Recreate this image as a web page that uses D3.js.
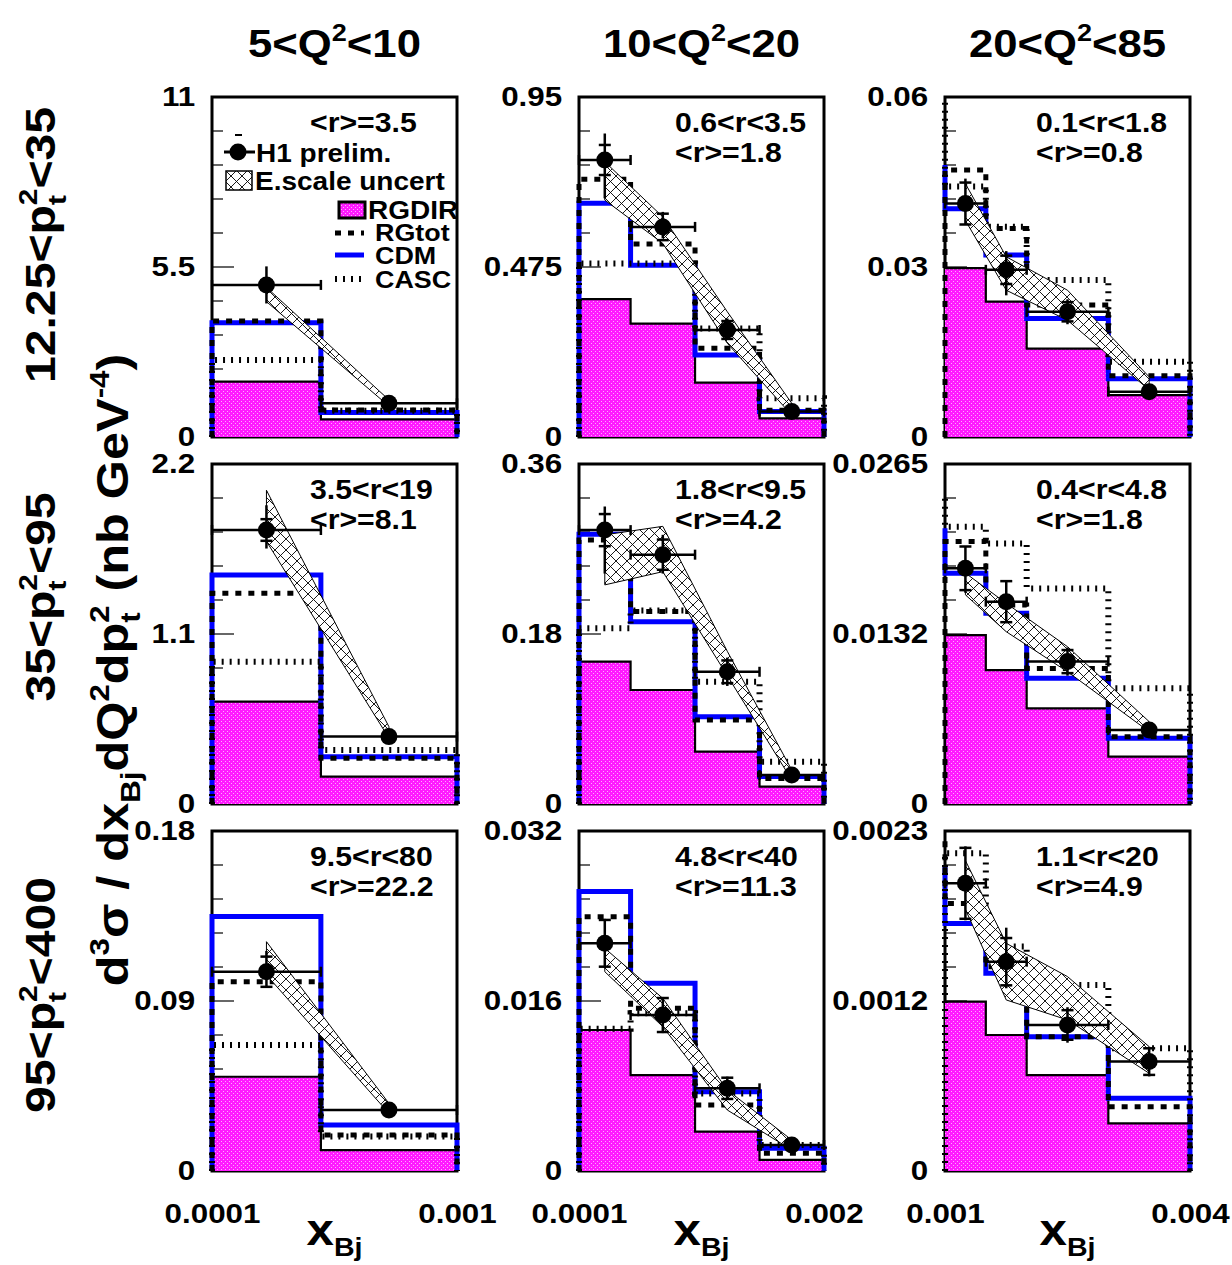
<!DOCTYPE html>
<html><head><meta charset="utf-8">
<script src="https://cdn.jsdelivr.net/npm/d3@7"></script>
<style>body{margin:0;background:#fff}</style>
</head><body>
<svg id="c" width="1232" height="1265"></svg>
<script>
// ---------------- data ----------------
const q2Low = ["5", "10", "20"];
const q2High = ["10", "20", "85"];
const pt2Low = ["12.25", "35", "95"];
const pt2High = ["35", "95", "400"];
const xEdges = [[1e-4,5e-4,1e-3],[1e-4,5e-4,1e-3,1.5e-3,2e-3],[1e-3,1.5e-3,2e-3,3e-3,4e-3]];
const xDomain = [[1e-4,1e-3],[1e-4,2e-3],[1e-3,4e-3]];
const xTickLabels = [["0.0001","0.001"],["0.0001","0.002"],["0.001","0.004"]];
const yMax = [11,0.95,0.06, 2.2,0.36,0.0265, 0.18,0.032,0.0023];
const yTickLabels = [["0","5.5","11"],["0","0.475","0.95"],["0","0.03","0.06"],
  ["0","1.1","2.2"],["0","0.18","0.36"],["0","0.0132","0.0265"],
  ["0","0.09","0.18"],["0","0.016","0.032"],["0","0.0012","0.0023"]];
const rRange = ["", "0.6<r<3.5", "0.1<r<1.8", "3.5<r<19", "1.8<r<9.5", "0.4<r<4.8", "9.5<r<80", "4.8<r<40", "1.1<r<20"];
const rMean = ["3.5","1.8","0.8","8.1","4.2","1.8","22.2","11.3","4.9"];

const rgdir = [
 [1.79,0.57],
 [0.385,0.317,0.152,0.052],
 [0.0298,0.0239,0.0156,0.0074],
 [0.662,0.177],
 [0.1507,0.1207,0.0554,0.0184],
 [0.01317,0.01044,0.00746,0.00369],
 [0.0499,0.0111],
 [0.01327,0.00903,0.0037,0.00104],
 [0.001146,0.00092,0.000649,0.000322]
];
const rgtot = [
 [3.75,0.87],
 [0.72,0.539,0.248,0.075],
 [0.0471,0.0368,0.0233,0.0108],
 [1.363,0.296],
 [0.2796,0.2037,0.089,0.027],
 [0.02045,0.01551,0.01057,0.00525],
 [0.1002,0.0191],
 [0.02394,0.01531,0.00621,0.00166],
 [0.00181,0.001382,0.000909,0.000435]
];
const cdm = [
 [3.70,0.79],
 [0.653,0.480,0.229,0.071],
 [0.0403,0.0321,0.0209,0.0103],
 [1.482,0.306],
 [0.2856,0.193,0.0925,0.029],
 [0.01798,0.01486,0.0098,0.00512],
 [0.1347,0.0244],
 [0.0263,0.01766,0.00747,0.00213],
 [0.001675,0.001337,0.000909,0.000492]
];
const casc = [
 [2.49,0.85],
 [0.485,0.485,0.303,0.108],
 [0.0442,0.0371,0.0277,0.0133],
 [0.921,0.349],
 [0.186,0.205,0.1295,0.0448],
 [0.0216,0.0203,0.0168,0.00902],
 [0.0667,0.0182],
 [0.0134,0.01484,0.0073,0.00245],
 [0.00215,0.001518,0.001258,0.00083]
];
// value of the bin just left of the drawn range (only visible in the last column)
const prevRgdir = [null,null,0.034, null,null,null, null,null,0.0014];
const prevRgtot = [null,null,null, null,null,null, null,null,0.00223];
const prevCdm   = [null,null,0.048, null,null,0.0215, null,null,0.00206];
const prevCasc  = [null,null,0.059, null,null,0.0238, null,null,null];

const h1 = [
 [4.92,1.09],
 [0.774,0.587,0.299,0.071],
 [0.0412,0.0295,0.0221,0.0080],
 [1.773,0.436],
 [0.290,0.264,0.140,0.0307],
 [0.01837,0.01577,0.0111,0.00577],
 [0.1055,0.0323],
 [0.02143,0.01468,0.00778,0.00245],
 [0.001946,0.001416,0.000988,0.00074]
];
const h1Stat = [
 [0.15,0.05],
 [0.042,0.037,0.025,0.005],
 [0.0037,0.0025,0.0017,0.0005],
 [0.07,0.02],
 [0.017,0.016,0.012,0.003],
 [0.0017,0.0016,0.0009,0.0003],
 [0.008,0.0015],
 [0.0022,0.0016,0.001,0.0003],
 [0.00024,0.00016,0.0001,0.00009]
];
const h1ErrLo = [
 [0.6,0.1],
 [0.107,0.032,0.02,0.008],
 [0.0037,0.0045,0.0022,0.0008],
 [0.12,0.03],
 [0.046,0.02,0.015,0.004],
 [0.0019,0.0016,0.0011,0.0004],
 [0.008,0.002],
 [0.0023,0.0017,0.0011,0.0003],
 [0.00025,0.00018,0.00012,0.0001]
];
const h1ErrHi = [
 [0.6,0.1],
 [0.074,0.042,0.032,0.008],
 [0.0044,0.0033,0.0022,0.0008],
 [0.16,0.03],
 [0.025,0.021,0.015,0.004],
 [0.0017,0.0016,0.0011,0.0004],
 [0.011,0.002],
 [0.0023,0.0017,0.0011,0.0003],
 [0.00025,0.00023,0.00012,0.0001]
];
const bandHi = [
 [4.84,1.2],
 [0.769,0.615,0.35,0.094],
 [0.0447,0.0318,0.0259,0.0106],
 [2.03,0.50],
 [0.285,0.294,0.1617,0.036],
 [0.0180,0.01564,0.01226,0.00642],
 [0.1214,0.0358],
 [0.02096,0.01625,0.00762,0.00292],
 [0.0021,0.00154,0.001315,0.000841]
];
const bandLo = [
 [4.38,1.0],
 [0.662,0.541,0.262,0.061],
 [0.0382,0.0259,0.0206,0.0083],
 [1.70,0.426],
 [0.232,0.246,0.1359,0.0254],
 [0.0163,0.01343,0.01031,0.00564],
 [0.1038,0.0305],
 [0.01876,0.01358,0.00574,0.00198],
 [0.00177,0.001157,0.001022,0.000661]
];

// ---------------- layout ----------------
const W = 245, H = 340;
const colLeft = [212, 579, 945], rowTop = [97, 464, 831];
const textX = [310, 675, 1036];
const FS = "'Liberation Sans', Arial, Helvetica, sans-serif";
const SX = 1.12;
const BLUE = "#0000ff";

const svg = d3.select("#c");
const defs = svg.append("defs");
const pink = defs.append("pattern").attr("id","pink").attr("patternUnits","userSpaceOnUse").attr("width",4).attr("height",4);
pink.append("rect").attr("width",4).attr("height",4).attr("fill","#ff1aff").attr("shape-rendering","crispEdges");
pink.append("rect").attr("x",1).attr("y",1).attr("width",1).attr("height",1).attr("fill","#ffa8ff").attr("shape-rendering","crispEdges");
pink.append("rect").attr("x",3).attr("y",3).attr("width",1).attr("height",1).attr("fill","#ffa8ff").attr("shape-rendering","crispEdges");
const HS = 11;
const hatch = defs.append("pattern").attr("id","hatch").attr("patternUnits","userSpaceOnUse").attr("width",HS).attr("height",HS);
hatch.append("rect").attr("width",HS).attr("height",HS).attr("fill","#fff");
hatch.append("path").attr("d",`M0,0L${HS},${HS}M${HS},0L0,${HS}`).attr("stroke","#000").attr("stroke-width",0.9);

function rich(parent, x, y, parts, size, anchor, rot) {
  const g = parent.append("g").attr("transform", `translate(${x},${y})` + (rot ? ` rotate(${rot})` : "") + ` scale(${SX},1)`);
  const t = g.append("text").attr("font-family", FS).attr("font-weight", "bold")
    .attr("font-size", size).attr("text-anchor", anchor || "start").attr("fill", "#000");
  let cur = 0;
  parts.forEach(p => {
    if (typeof p === "string") p = {t: p};
    let target = 0, fs = size;
    if (p.s === "sup") { target = -0.42 * size; fs = (p.k || 0.62) * size; }
    else if (p.s === "sub") { target = 0.26 * size; fs = (p.k || 0.62) * size; }
    const ts = t.append("tspan").text(p.t).attr("font-size", fs).attr("dy", target - cur);
    if (p.dx) ts.attr("dx", p.dx * size);
    cur = target;
  });
  return t;
}

// ---------------- panels ----------------
for (let r = 0; r < 3; r++) for (let c = 0; c < 3; c++) {
  const p = r * 3 + c;
  const x0 = colLeft[c], y0 = rowTop[r];
  const e = xEdges[c];
  const x = d3.scaleLinear().domain(xDomain[c]).range([x0, x0 + W]);
  const y = d3.scaleLinear().domain([0, yMax[p]]).range([y0 + H, y0]);
  const g = svg.append("g");
  const line = d3.line().x(d => x(d[0])).y(d => y(d[1]));

  // frame
  g.append("rect").attr("x", x0).attr("y", y0).attr("width", W).attr("height", H)
    .attr("fill", "#fff").attr("stroke", "#000").attr("stroke-width", 3);

  // y ticks (inside)
  d3.range(1, 10).forEach(i => {
    const v = yMax[p] * i / 10;
    g.append("line").attr("x1", x(xDomain[c][0])).attr("x2", x(xDomain[c][0]) + (i === 5 ? 22 : 11))
      .attr("y1", y(v)).attr("y2", y(v)).attr("stroke", "#000").attr("stroke-width", 1.2);
  });
  // x ticks (inside)
  d3.range(1, 5).forEach(i => {
    const v = xDomain[c][0] + (xDomain[c][1] - xDomain[c][0]) * i / 5;
    g.append("line").attr("x1", x(v)).attr("x2", x(v)).attr("y1", y(0)).attr("y2", y(0) - 5)
      .attr("stroke", "#000").attr("stroke-width", 1);
  });

  // y labels
  const ya = g.append("g").attr("transform", `translate(${x0},0)`)
    .call(d3.axisLeft(y).tickValues([0, yMax[p] / 2, yMax[p]]).tickSize(0).tickPadding(15)
      .tickFormat((d, i) => yTickLabels[p][i]));
  ya.select(".domain").remove();
  ya.attr("font-size", 28).attr("font-family", FS).attr("font-weight", "bold");
  ya.selectAll("text").attr("transform", `scale(${SX},1)`).attr("fill", "#000");

  // x labels on bottom row
  if (r === 2) {
    const xa = g.append("g").attr("transform", `translate(0,${y0 + H})`)
      .call(d3.axisBottom(x).tickValues(xDomain[c]).tickSize(0).tickPadding(32)
        .tickFormat((d, i) => xTickLabels[c][i]));
    xa.select(".domain").remove();
    xa.attr("font-size", 28).attr("font-family", FS).attr("font-weight", "bold");
    xa.selectAll("text").attr("transform", `scale(${SX},1)`).attr("fill", "#000");
    rich(svg, x0 + W / 2, 1245, ["x", {t: "Bj", s: "sub", k: 0.58}], 44, "middle");
  }

  function steps(vals, prev) {
    const pts = [[e[0], prev == null ? 0 : prev]];
    vals.forEach((v, i) => { pts.push([e[i], v], [e[i + 1], v]); });
    pts.push([e[e.length - 1], 0]);
    return pts;
  }

  // RGDIR fill + outline
  g.append("path").attr("d", line(steps(rgdir[p], null)) + "Z").attr("fill", "url(#pink)").attr("stroke", "none");
  g.append("path").attr("d", line(steps(rgdir[p], prevRgdir[p]))).attr("fill", "none")
    .attr("stroke", "#000").attr("stroke-width", 2.2);
  // CDM
  g.append("path").attr("d", line(steps(cdm[p], prevCdm[p]))).attr("fill", "none")
    .attr("stroke", BLUE).attr("stroke-width", 5);
  // RGtot
  g.append("path").attr("d", line(steps(rgtot[p], prevRgtot[p]))).attr("fill", "none")
    .attr("stroke", "#000").attr("stroke-width", 5).attr("stroke-dasharray", "6,7");
  // CASC
  g.append("path").attr("d", line(steps(casc[p], prevCasc[p]))).attr("fill", "none")
    .attr("stroke", "#000").attr("stroke-width", 6).attr("stroke-dasharray", "2,6");

  // energy scale band
  const xc = h1[p].map((v, i) => (e[i] + e[i + 1]) / 2);
  const band = xc.map((xx, i) => [xx, bandHi[p][i]]).concat(xc.map((xx, i) => [xx, bandLo[p][i]]).reverse());
  g.append("path").attr("d", line(band) + "Z").attr("fill", "url(#hatch)").attr("stroke", "#000").attr("stroke-width", 1);

  // H1 points
  h1[p].forEach((v, i) => {
    const px = x(xc[i]), py = y(v);
    const L = (a, b, c2, d) => g.append("line").attr("x1", a).attr("y1", b).attr("x2", c2).attr("y2", d)
      .attr("stroke", "#000").attr("stroke-width", 2.5);
    L(x(e[i]), py, x(e[i + 1]), py);
    L(x(e[i]), py - 5, x(e[i]), py + 5);
    L(x(e[i + 1]), py - 5, x(e[i + 1]), py + 5);
    L(px, y(v - h1ErrLo[p][i]), px, y(v + h1ErrHi[p][i]));
    L(px - 6, y(v + h1Stat[p][i]), px + 6, y(v + h1Stat[p][i]));
    L(px - 6, y(v - h1Stat[p][i]), px + 6, y(v - h1Stat[p][i]));
    g.append("circle").attr("cx", px).attr("cy", py).attr("r", 8.5).attr("fill", "#000");
  });

  // r text
  if (rRange[p]) {
    rich(svg, textX[c], y0 + 35, [rRange[p]], 27, "start");
    rich(svg, textX[c], y0 + 65, ["<r>=" + rMean[p]], 27, "start");
  } else {
    rich(svg, textX[c], y0 + 35, ["<r>=" + rMean[p]], 27, "start");
  }
}

// ---------------- legend (first panel) ----------------
const lg = svg.append("g");
lg.append("line").attr("x1", 224).attr("x2", 255).attr("y1", 152).attr("y2", 152).attr("stroke", "#000").attr("stroke-width", 3);
lg.append("line").attr("x1", 235).attr("x2", 242).attr("y1", 135).attr("y2", 135).attr("stroke", "#000").attr("stroke-width", 2);
lg.append("circle").attr("cx", 238).attr("cy", 152).attr("r", 8.5).attr("fill", "#000");
rich(lg, 256, 162, ["H1 prelim."], 25, "start");
lg.append("rect").attr("x", 226).attr("y", 171).attr("width", 26).attr("height", 19).attr("fill", "url(#hatch)").attr("stroke", "#000").attr("stroke-width", 1.5);
rich(lg, 255, 190, ["E.scale uncert"], 25, "start");
lg.append("rect").attr("x", 339).attr("y", 202).attr("width", 26).attr("height", 16).attr("fill", "url(#pink)").attr("stroke", "#000").attr("stroke-width", 3);
rich(lg, 368, 219, ["RGDIR"], 25, "start");
lg.append("line").attr("x1", 335).attr("x2", 364).attr("y1", 233).attr("y2", 233).attr("stroke", "#000").attr("stroke-width", 5).attr("stroke-dasharray", "6,7");
rich(lg, 375, 241, ["RGtot"], 24, "start");
lg.append("line").attr("x1", 335).attr("x2", 364).attr("y1", 255).attr("y2", 255).attr("stroke", BLUE).attr("stroke-width", 5);
rich(lg, 375, 264, ["CDM"], 24, "start");
lg.append("line").attr("x1", 335).attr("x2", 364).attr("y1", 279).attr("y2", 279).attr("stroke", "#000").attr("stroke-width", 6).attr("stroke-dasharray", "2,6");
rich(lg, 375, 288, ["CASC"], 24, "start");

// ---------------- titles ----------------
for (let c = 0; c < 3; c++) {
  rich(svg, colLeft[c] + W / 2, 57, [q2Low[c] + "<Q", {t: "2", s: "sup"}, "<" + q2High[c]], 39, "middle");
}
const rowCenters = [245, 597, 995];
for (let r = 0; r < 3; r++) {
  rich(svg, 55, rowCenters[r], [pt2Low[r] + "<p", {t: "t", s: "sub"}, {t: "2", s: "sup", dx: -0.21}, "<" + pt2High[r]], 43, "middle", -90);
}
rich(svg, 128, 670, ["d", {t: "3", s: "sup"}, "σ / dx", {t: "Bj", s: "sub"}, "dQ", {t: "2", s: "sup"}, "dp", {t: "t", s: "sub"}, {t: "2", s: "sup", dx: -0.21}, " (nb GeV", {t: "-4", s: "sup"}, ")"], 45, "middle", -90);
</script>
</body></html>
